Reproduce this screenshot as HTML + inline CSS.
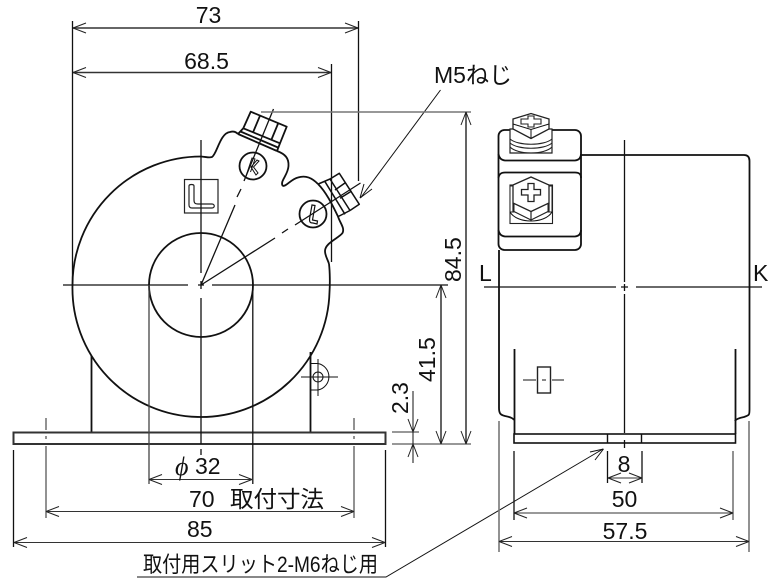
<!DOCTYPE html>
<html>
<head>
<meta charset="utf-8">
<style>
html,body{margin:0;padding:0;background:#fff;}
svg{display:block;}
text{font-family:"Liberation Sans","Noto Sans CJK JP",sans-serif;fill:#111;font-size:23px;}
.l{stroke:#111;stroke-width:1.3;fill:none;}
.t{stroke:#111;stroke-width:1.8;fill:none;stroke-linejoin:round;}
.m{stroke:#333;stroke-width:1.5;fill:none;}
.g{stroke:#777;stroke-width:1.6;fill:none;}
.h{stroke:#111;stroke-width:1;fill:none;}
</style>
</head>
<body>
<svg width="776" height="584" viewBox="0 0 776 584" xmlns="http://www.w3.org/2000/svg">
<defs>
<path id="a" d="M0 0L13 -5M0 0L13 5" stroke="#222" stroke-width="1" fill="none"/>
</defs>

<!-- LEFT VIEW: body -->
<path class="t" d="M201 156.500 C207 157 209 158 212 157 C217 154 220 133 230 132 C233 131 236 132 238 134"/>
<path class="t" d="M277 151 C285 154 289 158 288.500 166 C288 175 280 181 282.500 185.500 C285 188 291 179 298 177.500 C306 175 312 178 318 184"/>
<path class="t" d="M318 184 C326 192 332 204 338 216.500 C340 223 345 228 342.500 233 C339 238 325 243 325 251 C325 256 328 260 329 264"/>
<path class="t" d="M201 156.500 A128.500 128.500 0 0 0 72.500 285 A128.500 128.500 0 0 0 329.500 292 C330 285 330 272 329 264"/>
<circle class="t" cx="201" cy="285" r="52"/>
<path class="t" d="M91.500 356V432M310.500 352V432"/>
<rect x="13.500" y="432.500" width="372" height="11.500" fill="#fff" stroke="#333" stroke-width="2"/>

<!-- K bolt -->
<path class="t" d="M250.700 111.700L286.700 126.700L280 143.300L243.300 128.300Z M260 115.700L253.300 131.700M278.300 123L271.500 139.500 M240.500 131.500L278 147.500 M238 134L277 151 M243.300 128.300L238 134 M280 143.300L277 151"/>
<!-- L bolt -->
<path class="t" style="stroke-width:1.500" d="M330 179L339.300 173.300L359.300 204.300L350 210.500 M330 179L350 210.500 M325 181.700L345 214.300 M318.300 184L330 179 M338.300 216.500L350 210.500 M335 190L346 182.300 M340 198.300L351.700 191"/>

<circle class="t" cx="253" cy="166" r="13.500"/>
<circle class="t" cx="313" cy="214" r="13.500"/>
<path class="h" d="M246 176L252 158L255 159L250.500 172M257 160L251 167L256 175L258 173L253.500 167L259 161Z"/>
<path class="h" style="stroke-width:1.200" d="M312 205L309.500 219C309.500 222 310 223 313 223L317 224L317.500 221L312.500 220L315 205.500Z"/>

<!-- L mark box -->
<rect x="184.500" y="179.500" width="33.500" height="33.500" fill="#fff" stroke="#222" stroke-width="1.200"/>
<path d="M189 186C189 184 194 184 194 186V200C194 203 195 204 198 204H212C215 204 215 208 212 208H192C190 208 189 207 189 205Z" fill="#fff" stroke="#222" stroke-width="1.200"/>

<!-- centre lines left -->
<path class="l" d="M201 140V273M201 281V289M201 298V444M201 449V455"/>
<path class="l" d="M63 285H188M198 285H204M212 285H448"/>
<path class="l" d="M201 285L235 205M237 197L241 189M244 181L273.500 109"/>
<path class="l" d="M201 285L275 238M282 233L288 229M295 225L360.500 183"/>

<!-- small hole -->
<circle class="h" cx="318" cy="377" r="5"/>
<path class="h" d="M310 363.500H318A13.500 13.500 0 0 1 318 390H310"/>
<path class="h" d="M301 377H338M318 359V396"/>

<!-- Top dimensions -->
<path class="l" d="M72.500 21V285M358.500 21V181M331.500 64V262"/>
<path class="m" d="M73 28H358M73 72.500H331"/>
<use href="#a" transform="translate(73,28)"/>
<use href="#a" transform="translate(358,28) rotate(180)"/>
<use href="#a" transform="translate(73,72.500)"/>
<use href="#a" transform="translate(331,72.500) rotate(180)"/>
<text x="208.500" y="23" text-anchor="middle">73</text>
<text x="206.500" y="69" text-anchor="middle">68.5</text>

<!-- M5 leader -->
<path class="h" d="M440.500 90L360.500 198"/>
<path class="h" d="M360 198L364 184M360 198L372 189"/>
<text x="434" y="83">M5ねじ</text>

<!-- 84.5 / 41.5 / 2.3 -->
<path class="g" d="M261 112H471"/>
<path class="g" d="M392 444H471M392 432H419"/>
<path class="l" d="M466 112V444M441 285V444"/>
<use href="#a" transform="translate(466,112) rotate(90)"/>
<use href="#a" transform="translate(466,444) rotate(-90)"/>
<use href="#a" transform="translate(441,285) rotate(90)"/>
<use href="#a" transform="translate(441,444) rotate(-90)"/>
<text transform="translate(461,282) rotate(-90)">84.5</text>
<text transform="translate(435,382) rotate(-90)">41.5</text>
<path class="h" stroke="#333" d="M413 391V463"/>
<use href="#a" transform="translate(413,432) rotate(-90)"/>
<use href="#a" transform="translate(413,444) rotate(90)"/>
<text transform="translate(408,414) rotate(-90)">2.3</text>

<!-- bottom dimensions left -->
<path class="l" style="stroke:#444" d="M149 285V484"/>
<path class="l" d="M252.800 285V484"/>
<path class="m" style="stroke-width:1.100" d="M149 479.500H252"/>
<use href="#a" transform="translate(149,479.500)"/>
<use href="#a" transform="translate(252,479.500) rotate(180)"/>
<text x="175" y="475" style="font-family:'Liberation Serif','DejaVu Serif',serif;font-style:italic;font-size:26px">ϕ</text>
<text x="195" y="474">32</text>

<path class="g" d="M46 418V430M46 436V439M46 446V518M354 418V430M354 436V439M354 446V518"/>
<path class="m" style="stroke-width:1.100" d="M46 511.500H354"/>
<use href="#a" transform="translate(46,511.500)"/>
<use href="#a" transform="translate(354,511.500) rotate(180)"/>
<text x="189" y="507">70</text>
<text x="230" y="507" textLength="94" lengthAdjust="spacingAndGlyphs">取付寸法</text>

<path class="l" d="M13.500 450V547M385.500 450V547"/>
<path class="m" style="stroke-width:1.100" d="M14 542.500H385"/>
<use href="#a" transform="translate(14,542.500)"/>
<use href="#a" transform="translate(385,542.500) rotate(180)"/>
<text x="187" y="537">85</text>

<text x="143" y="572" style="font-size:22px" textLength="235" lengthAdjust="spacingAndGlyphs">取付用スリット2-M6ねじ用</text>
<path class="h" d="M137 577H386L603 449"/>
<path class="h" d="M603.500 449L590 452M603.500 449L595 460"/>

<!-- RIGHT VIEW -->
<path class="t" d="M581 155H744Q749.500 155 749.500 161V407C749.500 415 750 415 744 417C739 418 736 419 735 421"/>
<path class="t" d="M499 250V408C499 414 501 415 505 416C510 417 513 418 514 420"/>
<path class="t" d="M514.500 349V434M735.500 349V434"/>
<rect x="514" y="434" width="221.500" height="9" fill="none" stroke="#111" stroke-width="1.600"/>
<path class="t" style="stroke-width:1.400" d="M607.500 434V443M641.500 434V443"/>

<!-- terminal block -->
<rect x="498.500" y="130" width="82.500" height="120" rx="6" fill="#fff" stroke="#111" stroke-width="1.800"/>
<path class="t" d="M498.500 154C499 158 501 160 505 160.500H575C579 160 581 158 581 154"/>
<path class="t" d="M498.500 178C499 174 501 172.500 505 172.500H575C579 172.500 581 174 581 178"/>
<path class="t" d="M498.500 230C499 234 501 236 505 236.500H575C579 236 581 234 581 230"/>

<!-- top screw -->
<path d="M510 129H552V153H510Z" fill="#fff" stroke="#222" stroke-width="1.200"/>
<path d="M510 143C518 150 544 150 552 143M510 147C518 155 544 155 552 147M510 139C518 146 544 146 552 139" fill="none" stroke="#222" stroke-width="1.100"/>
<path d="M513 119L531 113.500L549 119V129L531 138.500L513 129Z" fill="#fff" stroke="#222" stroke-width="1.300"/>
<path class="h" d="M513 124L531 129.500L549 124M531 129.500V138.500"/>
<path d="M528 116H534V119H541V124H534V127H528V124H521V119H528Z" fill="#fff" stroke="#222" stroke-width="1.100"/>

<!-- front screw -->
<rect x="510" y="185" width="42.500" height="38.500" fill="#fff" stroke="#222" stroke-width="1.100"/>
<path d="M510 186H514V212H510ZM548 186H552V212H548Z" fill="#fff" stroke="#222" stroke-width="1"/>
<path d="M513 185L531 177L549 185V203L531 211.500L513 203Z" fill="#fff" stroke="#222" stroke-width="1.300"/>
<path d="M513 203V211L531 220L549 211V203M531 211.500V220" fill="none" stroke="#222" stroke-width="1.200"/>
<path class="h" d="M510 212C517 224 545 224 552 212"/>
<path d="M528 183.500H534V189.500H540.500V195H534V201.500H528V195H521.500V189.500H528Z" fill="#fff" stroke="#222" stroke-width="1.300"/>

<!-- small slot -->
<rect x="537.500" y="367" width="13" height="26" fill="none" stroke="#222" stroke-width="1.400"/>
<path class="h" d="M523 380H536M542 380H546M552 380H564"/>

<!-- centre lines right -->
<path class="l" d="M624.500 140V282M624.500 284V291M624.500 294V433M624.500 440V448"/>
<path class="l" d="M484 287H616M621 287H628M636 287H762"/>
<text x="479" y="281">L</text>
<text x="753" y="281">K</text>

<!-- bottom dimensions right -->
<path class="l" d="M514 451V520M607.500 451V483M642 451V483"/>
<path class="g" d="M733 451V520M499 421V552M749 421V552"/>
<path class="m" style="stroke-width:1" d="M608 478H642"/>
<use href="#a" transform="translate(608,478)"/>
<use href="#a" transform="translate(642,478) rotate(180)"/>
<path class="m" style="stroke-width:1.100" d="M514 513H733M499 541.500H749"/>
<use href="#a" transform="translate(514,513)"/>
<use href="#a" transform="translate(733,513) rotate(180)"/>
<use href="#a" transform="translate(499,541.500)"/>
<use href="#a" transform="translate(749,541.500) rotate(180)"/>
<text x="624" y="472" text-anchor="middle">8</text>
<text x="624.500" y="507" text-anchor="middle">50</text>
<text x="625" y="539" text-anchor="middle">57.5</text>
</svg>
</body>
</html>
